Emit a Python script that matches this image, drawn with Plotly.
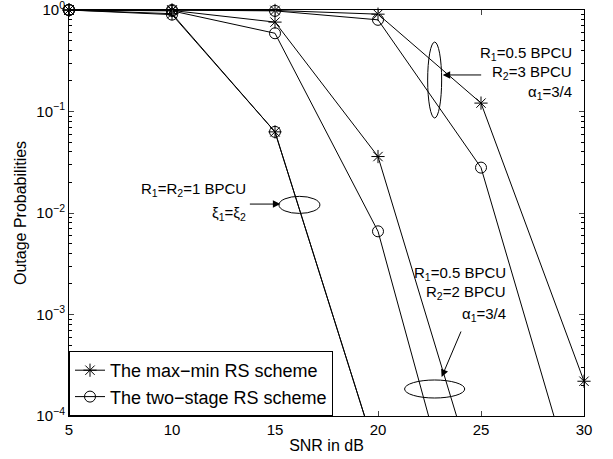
import plotly.graph_objects as go

snr = [5, 10, 15, 20, 25, 30]

# R1=R2=1 BPCU (both schemes coincide)
mm_r1 = [1.0, 0.92, 0.063, 3.8e-5, 1e-7, 1e-9]
ts_r1 = [1.0, 0.90, 0.063, 3.8e-5, 1e-7, 1e-9]
# R1=0.5, R2=2 BPCU
mm_r2 = [1.0, 0.99, 0.76, 0.036, 1.6e-5, 1e-8]
ts_r2 = [1.0, 0.98, 0.59, 0.0066, 1.3e-6, 1e-9]
# R1=0.5, R2=3 BPCU
mm_r3 = [1.0, 1.0, 0.99, 0.91, 0.121, 2.2e-4]
ts_r3 = [1.0, 1.0, 0.98, 0.80, 0.028, 9.8e-6]

xtick_vals = [5, 10, 15, 20, 25, 30]
ytick_vals = [1e-4, 1e-3, 1e-2, 1e-1, 1]
ytick_text = ["10<sup>−4</sup>", "10<sup>−3</sup>", "10<sup>−2</sup>", "10<sup>−1</sup>", "10<sup>0</sup>"]
yminor_vals = [m * d for d in [1e-4, 1e-3, 1e-2, 1e-1] for m in range(2, 10)]

FONT = "Liberation Sans, Arial, sans-serif"
fig = go.Figure()

series = [(mm_r1, "asterisk-open"), (ts_r1, "circle-open"),
          (mm_r2, "asterisk-open"), (ts_r2, "circle-open"),
          (mm_r3, "asterisk-open"), (ts_r3, "circle-open")]
for vals, sym in series:
    fig.add_trace(go.Scatter(x=snr, y=vals, mode="lines", line=dict(color="black", width=1),
                             showlegend=False, hoverinfo="skip"))
    xs = [x for x, v in zip(snr, vals) if v >= 1e-4]
    ys = [v for v in vals if v >= 1e-4]
    fig.add_trace(go.Scatter(x=xs, y=ys, mode="markers", cliponaxis=False,
                             marker=dict(symbol=sym, size=11, color="black", line=dict(width=1, color="black")),
                             showlegend=False))

fig.add_trace(go.Scatter(x=[None], y=[None], mode="lines+markers", name="The max−min RS scheme",
                         line=dict(color="black", width=1),
                         marker=dict(symbol="asterisk-open", size=11, color="black", line=dict(width=1, color="black"))))
fig.add_trace(go.Scatter(x=[None], y=[None], mode="lines+markers", name="The two−stage RS scheme",
                         line=dict(color="black", width=1),
                         marker=dict(symbol="circle-open", size=11, color="black", line=dict(width=1, color="black"))))

# ellipses
ell = [(22.41, 23.09, 0.734, 0.921), (15.19, 17.18, 0.499, 0.541), (21.29, 24.21, 0.0443, 0.0887)]
for x0, x1, y0, y1 in ell:
    fig.add_shape(type="circle", xref="x", yref="y domain", x0=x0, x1=x1, y0=y0, y1=y1,
                  line=dict(color="black", width=1))

# arrows
arrows = [(23.14, 0.840, 40, 0), (15.26, 0.522, -32, 0), (23.09, 0.096, 20, -47)]
for x, y, ax, ay in arrows:
    fig.add_annotation(x=x, y=y, xref="x", yref="y domain", ax=ax, ay=ay, text="",
                       showarrow=True, arrowhead=2, arrowsize=1.5, arrowwidth=1, arrowcolor="black")

texts = [
    ("R<sub>1</sub>=0.5 BPCU", 29.51, 0.894), ("R<sub>2</sub>=3 BPCU", 29.51, 0.847), ("α<sub>1</sub>=3/4", 29.51, 0.796),
    ("R<sub>1</sub>=R<sub>2</sub>=1 BPCU", 13.71, 0.557), ("ξ<sub>1</sub>=ξ<sub>2</sub>", 13.71, 0.498),
    ("R<sub>1</sub>=0.5 BPCU", 26.30, 0.352), ("R<sub>2</sub>=2 BPCU", 26.30, 0.303), ("α<sub>1</sub>=3/4", 26.30, 0.249),
]
for t, x, y in texts:
    fig.add_annotation(x=x, y=y, xref="x", yref="y domain", text=t, showarrow=False,
                       xanchor="right", yanchor="middle", font=dict(size=15, color="black", family=FONT))

fig.add_annotation(x=0, y=0.5, xref="paper", yref="y domain", xanchor="center", yanchor="middle",
                   xshift=-49, text="Outage Probabilities", textangle=-90, showarrow=False,
                   font=dict(size=16, color="black", family=FONT))

fig.update_layout(
    width=613, height=459, margin=dict(l=69, r=29, t=10, b=43),
    paper_bgcolor="white", plot_bgcolor="white",
    font=dict(family=FONT, size=15, color="black"),
    legend=dict(x=0, y=0, xanchor="left", yanchor="bottom", bgcolor="white",
                bordercolor="black", borderwidth=1, font=dict(size=18), tracegroupgap=0,
                itemwidth=30),
)
fig.update_xaxes(range=[5, 30], tickvals=xtick_vals, ticks="inside", ticklen=5, automargin=False,
                 showline=True, linecolor="black", linewidth=1, mirror="allticks", showgrid=False,
                 zeroline=False, title=dict(text="SNR in dB", standoff=2, font=dict(size=16)),
                 tickfont=dict(size=15), ticklabeloverflow="allow")
fig.update_yaxes(type="log", range=[-4, 0], tickvals=ytick_vals, ticktext=ytick_text, ticks="inside",
                 ticklen=5, showline=True, linecolor="black", linewidth=1, mirror="allticks", showgrid=False,
                 zeroline=False, automargin=False, tickfont=dict(size=15), ticklabeloverflow="allow",
                 minor=dict(tickvals=yminor_vals, ticks="inside", ticklen=3, showgrid=False, tickcolor="black"))

fig.write_html("out.html", config={"displayModeBar": False},
               post_script="document.body.style.margin='0px';")
